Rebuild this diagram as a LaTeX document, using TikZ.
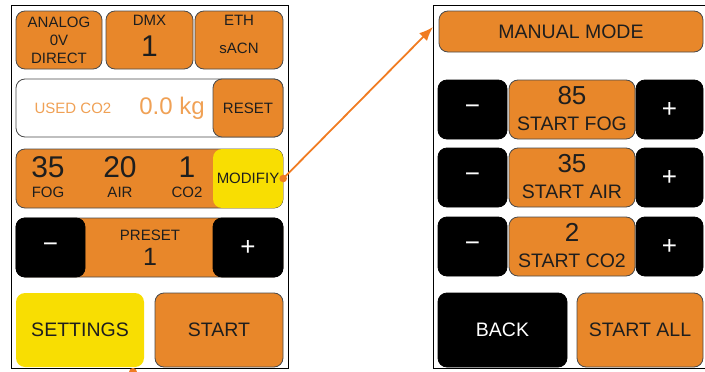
\documentclass[tikz,border=0pt]{standalone}
\usepackage{fontspec}
\setmainfont{Liberation Sans}
\usetikzlibrary{arrows.meta,positioning,calc}

\definecolor{panelorange}{HTML}{E8872A}
\definecolor{panelyellow}{HTML}{F8DE02}
\definecolor{paneledge}{HTML}{4A4A4A}
\definecolor{paneltext}{HTML}{1E1E1E}
\definecolor{usedorange}{HTML}{F0A155}
\definecolor{linkorange}{HTML}{F07C22}

\newcommand{\fSmall}{\fontsize{15}{18}\selectfont}
\newcommand{\fMid}{\fontsize{19.5}{22}\selectfont}
\newcommand{\fNum}{\fontsize{26}{28}\selectfont}
\newcommand{\fBig}{\fontsize{30}{32}\selectfont}

\begin{document}
\begin{tikzpicture}[x=1pt,y=-1pt,
	btnorange/.style={draw=paneledge, line width=0.8pt, rounded corners=9pt, fill=panelorange, inner sep=0pt, text=paneltext},
	btnyellow/.style={rounded corners=9pt, fill=panelyellow, inner sep=0pt, text=paneltext},
	btnblack/.style={draw=black, line width=0.8pt, rounded corners=9pt, fill=black, inner sep=0pt, text=white},
	btnwhite/.style={draw=paneledge, line width=0.8pt, rounded corners=9pt, fill=white, inner sep=0pt},
	txt/.style={inner sep=0pt, text=paneltext}]
		\def\xPanelL{11}
		\def\xPanelR{288}
		\def\xPanelB{433}
		\def\yPanelTop{5}
		\def\yPanelBot{368}
		% rows of the left panel
		\def\yRowA{40}
		\def\yRowB{108}
		\def\yRowC{178.5}
		\def\yRowD{247.5}
		\def\yRowE{330}
		% rows of the right panel
		\def\yManA{109.5}
		\def\yManB{177.5}
		\def\yManC{246.5}
		\def\dyNum{14}

\useasboundingbox (0,0) rectangle (705,372);

% panels
\draw[line width=1pt] (\xPanelL,\yPanelTop) rectangle (\xPanelR,\yPanelBot);
\draw[line width=1pt] (706,\yPanelTop) -- (\xPanelB,\yPanelTop) -- (\xPanelB,\yPanelBot) -- (706,\yPanelBot);

% left panel, first row
\node[btnorange, minimum width=86pt, minimum height=58pt, align=center, font=\fSmall] (analog) at (59,\yRowA) {ANALOG\\0V\\DIRECT};
\node[btnorange, minimum width=87pt, minimum height=58pt] (dmx) at (149.5,\yRowA) {};
\node[txt, font=\fSmall] (dmxname) at (149.5,20) {DMX};
\node[txt, font=\fBig] (dmxaddr) at (149.5,46) {1};
\node[btnorange, minimum width=88pt, minimum height=58pt] (eth) at (239,\yRowA) {};
\node[txt, font=\fSmall] (ethname) at (239,20) {ETH};
\node[txt, font=\fSmall] (ethproto) at (239,48) {sACN};

% used co2
\node[btnwhite, minimum width=267pt, minimum height=58pt] (used) at (149.5,\yRowB) {};
\node[btnorange, minimum width=70pt, minimum height=58pt, font=\fSmall] (reset) at (248,\yRowB) {RESET};
\node[txt, text=usedorange, font=\fSmall] (usedname) at (73,\yRowB) {USED CO2};
\node[txt, text=usedorange, font=\fontsize{24}{26}\selectfont] (usedkg) at (172,\yRowB) {0.0 kg};

% fog / air / co2
\node[btnorange, minimum width=267pt, minimum height=59pt] (mix) at (149.5,\yRowC) {};
\node[btnyellow, minimum width=70pt, minimum height=59pt, font=\fSmall] (modify) at (248,\yRowC) {MODIFIY};
\node[txt, font=\fBig] (fogval) at (48,167) {35};
\node[txt, font=\fSmall] (fogname) at (48,192) {FOG};
\node[txt, font=\fBig] (airval) at (120,167) {20};
\node[txt, font=\fSmall] (airname) at (120,192) {AIR};
\node[txt, font=\fBig] (coval) at (187,167) {1};
\node[txt, font=\fSmall] (coname) at (187,192) {CO2};

% preset
\node[btnorange, minimum width=267pt, minimum height=59pt] (preset) at (149.5,\yRowD) {};
\node[btnblack, minimum width=69pt, minimum height=59pt, font=\fNum] (presetminus) at (50.5,\yRowD) {−};
\node[btnblack, minimum width=70pt, minimum height=59pt, font=\fNum] (presetplus) at (248,\yRowD) {+};
\node[txt, font=\fSmall] (presetname) at (150,235) {PRESET};
\node[txt, font=\fontsize{25}{27}\selectfont] (presetval) at (150,257) {1};

% bottom buttons
\node[btnyellow, minimum width=128pt, minimum height=74pt, font=\fMid] (settings) at (80,\yRowE) {SETTINGS};
\node[btnorange, minimum width=128pt, minimum height=74pt, font=\fMid] (start) at (219,\yRowE) {START};

% right panel
\node[btnorange, minimum width=264pt, minimum height=41pt, font=\fMid] (manual) at (571,31.5) {MANUAL MODE};

\node[btnblack, minimum width=69pt, minimum height=59pt, font=\fNum] (fogminus) at (472.5,\yManA) {−};
\node[btnorange, minimum width=126pt, minimum height=59pt] (startfog) at (572,\yManA) {};
\node[btnblack, minimum width=67pt, minimum height=59pt, font=\fNum] (fogplus) at (669.5,\yManA) {+};
\node[txt, font=\fNum] (startfogval) at (572,\yManA-\dyNum) {85};
\node[txt, font=\fMid] (startfogname) at (572,\yManA+\dyNum) {START FOG};

\node[btnblack, minimum width=69pt, minimum height=59pt, font=\fNum] (airminus) at (472.5,\yManB) {−};
\node[btnorange, minimum width=126pt, minimum height=59pt] (startair) at (572,\yManB) {};
\node[btnblack, minimum width=67pt, minimum height=59pt, font=\fNum] (airplus) at (669.5,\yManB) {+};
\node[txt, font=\fNum] (startairval) at (572,\yManB-\dyNum) {35};
\node[txt, font=\fMid] (startairname) at (572,\yManB+\dyNum) {START AIR};

\node[btnblack, minimum width=69pt, minimum height=59pt, font=\fNum] (cominus) at (472.5,\yManC) {−};
\node[btnorange, minimum width=126pt, minimum height=59pt] (startco) at (572,\yManC) {};
\node[btnblack, minimum width=67pt, minimum height=59pt, font=\fNum] (coplus) at (669.5,\yManC) {+};
\node[txt, font=\fNum] (startcoval) at (572,\yManC-\dyNum) {2};
\node[txt, font=\fMid] (startconame) at (572,\yManC+\dyNum) {START CO2};

\node[btnblack, minimum width=129pt, minimum height=74pt, font=\fMid] (back) at (502.5,\yRowE) {BACK};
\node[btnorange, minimum width=126pt, minimum height=74pt, font=\fMid] (startall) at (640,\yRowE) {START ALL};

% link from MODIFIY to the manual mode screen
\coordinate (manualin) at (\xPanelB,27);
\draw[linkorange, line width=1.8pt, -{Latex[length=14pt,width=11pt]}] (modify.east) -- (manualin);
\fill[linkorange] (modify.east) circle (3.8pt);
\fill[linkorange] (133,372) circle (4pt);

	\end{tikzpicture}
\end{document}
